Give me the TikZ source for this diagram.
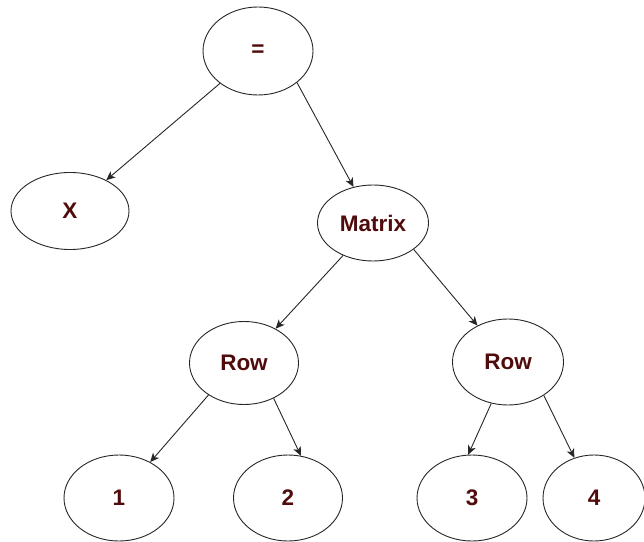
\documentclass[tikz,border=0pt]{standalone}
\usepackage{fontspec}
\setmainfont{Liberation Sans}
\usetikzlibrary{arrows.meta,shapes.geometric}
\definecolor{txt}{RGB}{80,12,12}
\tikzset{
  tn/.style={draw=black!85, line width=0.9pt, ellipse, inner sep=0pt,
    font=\fontsize{22.5}{26}\selectfont\bfseries, text=txt},
  edge/.style={draw=black!85, line width=0.9pt, -{Stealth[length=9pt,width=8pt,inset=2.5pt]}}
}
\begin{document}
\begin{tikzpicture}[x=1pt,y=1pt]
\useasboundingbox (0,0) rectangle (644,541);
\node[tn, minimum width=110pt, minimum height=88pt] (eq) at (258,490) {=};
\node[tn, minimum width=118pt, minimum height=77pt] (x) at (70,330) {X};
\node[tn, minimum width=111pt, minimum height=76pt] (matrix) at (373,318) {Matrix};
\node[tn, minimum width=109pt, minimum height=83pt] (row1) at (244,178) {Row};
\node[tn, minimum width=111pt, minimum height=86pt] (row2) at (508,179) {Row};
\node[tn, minimum width=110pt, minimum height=86pt] (n1) at (119,43) {1};
\node[tn, minimum width=109pt, minimum height=86pt] (n2) at (288,43) {2};
\node[tn, minimum width=110pt, minimum height=86pt] (n3) at (472,43) {3};
\node[tn, minimum width=102pt, minimum height=86pt] (n4) at (594,43) {4};
\draw[edge] (eq) -- (x);
\draw[edge] (eq.-39) -- (matrix);
\draw[edge] (matrix) -- (row1);
\draw[edge] (matrix.-33) -- (row2);
\draw[edge] (row1.-138) -- (n1);
\draw[edge] (row1.-50) -- (n2.73);
\draw[edge] (row2.-112) -- (n3.95);
\draw[edge] (row2.-43) -- (n4);
\end{tikzpicture}
\end{document}
